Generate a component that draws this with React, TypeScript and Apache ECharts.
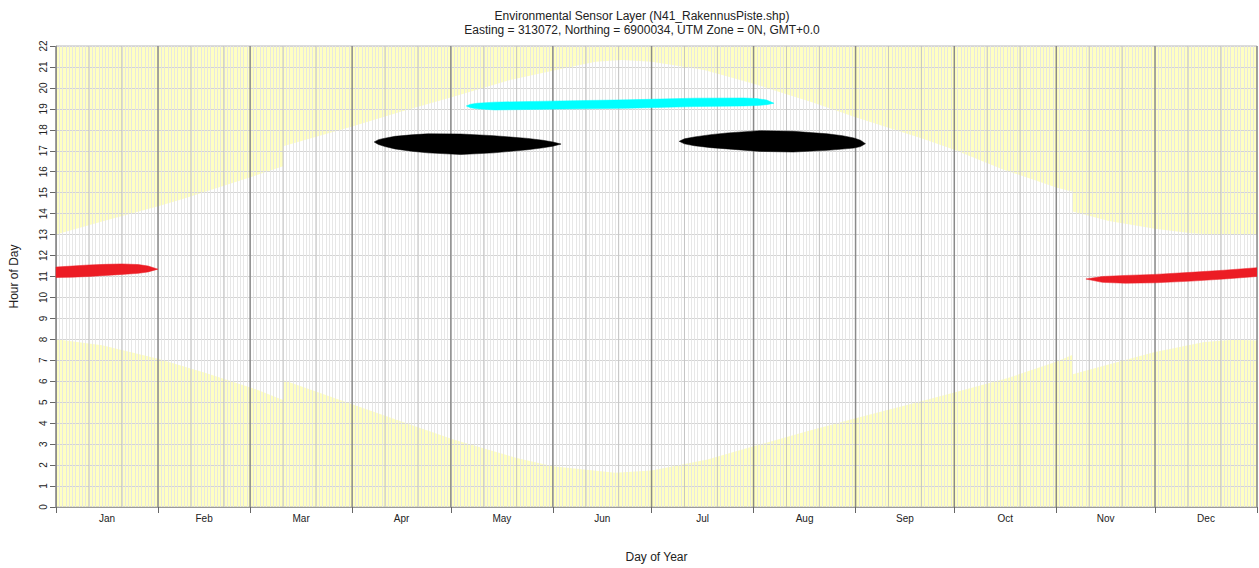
import React, { useEffect, useRef } from "react";
import * as echarts from "echarts";

// ---- data ----
const monthNames = ["Jan", "Feb", "Mar", "Apr", "May", "Jun", "Jul", "Aug", "Sep", "Oct", "Nov", "Dec"];
const monthStarts = [0, 31, 59, 90, 120, 151, 181, 212, 243, 273, 304, 334, 365];
const hourTicks = [0, 22];

// sunrise (lower daylight boundary), hours
const sunriseDays = [0, 14, 31, 46, 60, 69, 69, 90, 105, 121, 140, 151, 170, 181, 198, 212, 228, 243, 258, 273, 289, 304, 309, 309, 319, 334, 349, 358, 365];
const sunriseHours = [8.0, 7.72, 7.08, 6.37, 5.66, 5.11, 6.06, 4.9, 4.08, 3.21, 2.34, 1.95, 1.63, 1.74, 2.27, 2.9, 3.6, 4.24, 4.84, 5.47, 6.14, 6.93, 7.27, 6.33, 6.77, 7.4, 7.87, 7.98, 7.95];

// sunset (upper daylight boundary), hours
const sunsetDays = [0, 14, 31, 38, 60, 69, 69, 90, 105, 121, 138, 152, 164, 172, 181, 197, 212, 230, 243, 263, 273, 288, 304, 309, 309, 320, 334, 345, 355, 365];
const sunsetHours = [13.0, 13.63, 14.35, 14.68, 15.79, 16.26, 17.21, 18.16, 18.87, 19.59, 20.38, 20.86, 21.25, 21.33, 21.25, 20.86, 20.2, 19.3, 18.6, 17.6, 17.05, 16.1, 15.25, 15.05, 14.1, 13.65, 13.28, 13.06, 12.98, 13.02];

// shading blobs: day, lower edge, upper edge
const redJanDays = [0, 5, 10, 15, 20, 25, 28, 31];
const redJanLow = [10.95, 10.97, 11.0, 11.05, 11.1, 11.15, 11.22, 11.35];
const redJanHigh = [11.45, 11.5, 11.55, 11.58, 11.6, 11.57, 11.5, 11.35];

const redDecDays = [313, 318, 325, 334, 345, 355, 365];
const redDecLow = [10.88, 10.72, 10.68, 10.7, 10.78, 10.88, 11.0];
const redDecHigh = [10.88, 11.0, 11.05, 11.1, 11.2, 11.3, 11.42];

const blackAprDays = [96.7, 98, 100, 103, 108, 113, 123, 133, 143.4, 148, 151, 153.5];
const blackAprLow = [17.42, 17.3, 17.2, 17.09, 16.98, 16.9, 16.82, 16.9, 17.05, 17.14, 17.22, 17.32];
const blackAprHigh = [17.42, 17.53, 17.6, 17.69, 17.76, 17.81, 17.8, 17.72, 17.59, 17.5, 17.42, 17.32];

const blackJulDays = [189.4, 191, 194, 199, 204, 214, 224, 234.4, 239, 242.5, 244.5, 246];
const blackJulLow = [17.45, 17.33, 17.24, 17.15, 17.09, 16.97, 16.94, 17.02, 17.08, 17.13, 17.2, 17.34];
const blackJulHigh = [17.45, 17.57, 17.66, 17.77, 17.85, 17.96, 17.93, 17.81, 17.72, 17.61, 17.5, 17.34];

const cyanDays = [124.7, 126, 128, 133.3, 153.5, 173.7, 194, 209, 213, 216, 218.2];
const cyanLow = [19.14, 19.05, 19.0, 18.95, 18.99, 19.03, 19.11, 19.14, 19.16, 19.2, 19.27];
const cyanHigh = [19.14, 19.22, 19.27, 19.32, 19.38, 19.43, 19.51, 19.52, 19.49, 19.42, 19.27];

const titleLines = [
  "Environmental Sensor Layer (N41_RakennusPiste.shp)",
  "Easting = 313072, Northing = 6900034, UTM Zone = 0N, GMT+0.0",
];

const FONT = "'Liberation Sans', Arial, sans-serif";

function polygonSeries(name: string, days: number[], low: number[], high: number[], color: string, z: number) {
  return {
    name,
    type: "custom",
    z,
    silent: true,
    clip: true,
    data: [[days[0], low[0]]],
    renderItem: (_params: any, api: any) => {
      const pts: number[][] = [];
      for (let i = 0; i < days.length; i++) pts.push(api.coord([days[i], low[i]]));
      for (let i = days.length - 1; i >= 0; i--) pts.push(api.coord([days[i], high[i]]));
      return { type: "polygon", shape: { points: pts }, style: { fill: color, stroke: color, lineWidth: 0.5 } };
    },
  };
}

function daylightSeries() {
  return {
    name: "daylight",
    type: "custom",
    z: 1,
    silent: true,
    clip: true,
    data: [[0, 0]],
    renderItem: (_params: any, api: any) => {
      const pts: number[][] = [];
      for (let i = 0; i < sunriseDays.length; i++) pts.push(api.coord([sunriseDays[i], sunriseHours[i]]));
      for (let i = sunsetDays.length - 1; i >= 0; i--) pts.push(api.coord([sunsetDays[i], sunsetHours[i]]));
      return { type: "polygon", shape: { points: pts }, style: { fill: "#FFFFFF" } };
    },
  };
}

function vlineSeries(name: string, days: number[], color: string, width: number, z: number) {
  return {
    name,
    type: "custom",
    z,
    silent: true,
    data: days.map((d) => [d, 0]),
    renderItem: (_params: any, api: any) => {
      const d = api.value(0);
      const p0 = api.coord([d, hourTicks[0]]);
      const p1 = api.coord([d, hourTicks[1]]);
      return {
        type: "line",
        shape: { x1: p0[0], y1: p0[1], x2: p1[0], y2: p1[1] },
        style: { stroke: color, lineWidth: width },
      };
    },
  };
}

export default function App() {
  const ref = useRef<HTMLDivElement>(null);
  useEffect(() => {
    if (!ref.current) return;
    const chart = echarts.init(ref.current, undefined, { renderer: "svg" });
    const monthMids = monthNames.map((_, i) => (monthStarts[i] + monthStarts[i + 1]) / 2);
    const tenDays: number[] = [];
    for (let i = 0; i < 12; i++) {
      tenDays.push(monthStarts[i] + 10);
      tenDays.push(monthStarts[i] + 20);
    }
    chart.setOption({
      animation: false,
      backgroundColor: "#ffffff",
      textStyle: { fontFamily: FONT },
      title: {
        text: titleLines.join("\n"),
        left: 637,
        top: 4,
        textAlign: "center",
        textStyle: { fontFamily: FONT, fontSize: 12, fontWeight: "normal", color: "#222", lineHeight: 14 },
      },
      grid: {
        left: 54,
        right: 2,
        top: 46,
        bottom: 59,
        show: true,
        backgroundColor: "#FFFFC2",
        borderColor: "#b8b8b8",
        borderWidth: 1,
      },
      xAxis: [
        {
          type: "value",
          min: 0,
          max: 365,
          interval: 1,
          z: 2,
          axisLine: { show: false },
          axisTick: { show: false },
          axisLabel: { show: false },
          splitLine: { show: true, lineStyle: { color: "#E4E4E4", width: 0.9 } },
        },
        {
          type: "value",
          min: 0,
          max: 365,
          position: "bottom",
          z: 4,
          axisLine: { show: true, lineStyle: { color: "#999" } },
          axisTick: { show: true, length: 6, lineStyle: { color: "#666" }, customValues: monthStarts },
          axisLabel: {
            show: true,
            customValues: monthMids,
            fontSize: 10,
            color: "#222",
            margin: 6,
            fontFamily: FONT,
            formatter: (v: number) => {
              const i = monthMids.findIndex((m) => Math.abs(m - v) < 0.01);
              return i >= 0 ? monthNames[i] : "";
            },
          },
          splitLine: { show: false },
          name: "Day of Year",
          nameLocation: "middle",
          nameGap: 44,
          nameTextStyle: { fontSize: 12, color: "#222", fontFamily: FONT },
        },
      ],
      yAxis: {
        type: "value",
        min: hourTicks[0],
        max: hourTicks[1],
        interval: 1,
        z: 2,
        axisLine: { show: true, lineStyle: { color: "#999" } },
        axisTick: { show: true, length: 6, lineStyle: { color: "#666" } },
        axisLabel: { rotate: 90, fontSize: 10, color: "#222", margin: 8, fontFamily: FONT },
        splitLine: { show: true, lineStyle: { color: "#D4D4D4", width: 1 } },
        name: "Hour of Day",
        nameLocation: "middle",
        nameRotate: 90,
        nameGap: 36,
        nameTextStyle: { fontSize: 12, color: "#222", fontFamily: FONT },
      },
      series: [
        daylightSeries(),
        vlineSeries("tenDays", tenDays, "#C4C4C4", 1, 3),
        vlineSeries("months", monthStarts, "#8A8A8A", 1.5, 3),
        polygonSeries("redJan", redJanDays, redJanLow, redJanHigh, "#EC1C24", 10),
        polygonSeries("redDec", redDecDays, redDecLow, redDecHigh, "#EC1C24", 10),
        polygonSeries("blackApr", blackAprDays, blackAprLow, blackAprHigh, "#000000", 10),
        polygonSeries("blackJul", blackJulDays, blackJulLow, blackJulHigh, "#000000", 10),
        polygonSeries("cyan", cyanDays, cyanLow, cyanHigh, "#00FFFF", 10),
      ],
    });
    return () => chart.dispose();
  }, []);
  return <div ref={ref} style={{ position: "fixed", left: 0, top: 0, width: 1259, height: 568 }} />;
}
